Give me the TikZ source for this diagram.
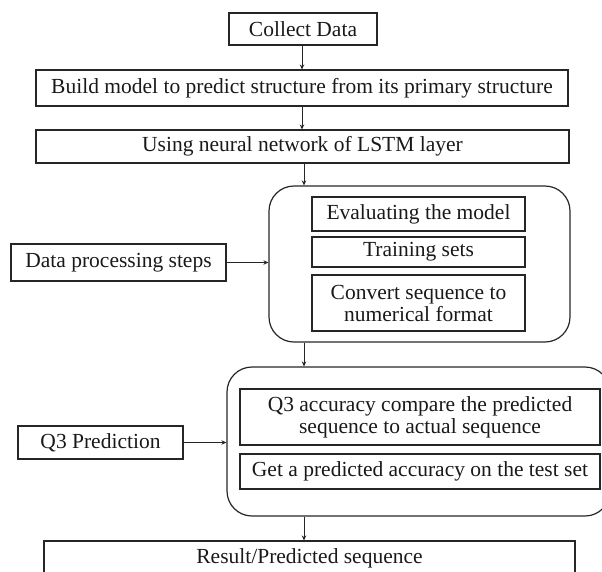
\documentclass[tikz,border=0pt]{standalone}
\usepackage{fontspec}
\setmainfont{Liberation Serif}
\usetikzlibrary{arrows.meta}
\begin{document}
\begin{tikzpicture}[x=1pt,y=-1pt,
  box/.style={draw=black!85,line width=1.1pt,rectangle,inner sep=0pt,align=center,
    font=\fontsize{21.5}{22}\selectfont,text=black!90},
  rbox/.style={draw=black!85,line width=1.2pt,rectangle,rounded corners=25pt,inner sep=0pt},
  arr/.style={draw=black!85,line width=0.9pt,-{Stealth[length=5pt,width=4.5pt]}}]
\useasboundingbox (0,0) rectangle (602,571);
\clip (0,0) rectangle (602,571);
\node[box,minimum width=148pt,minimum height=32pt] (collect) at (303,29) {Collect Data};
\node[box,minimum width=532pt,minimum height=36pt] (build) at (302,88) {Build model to predict structure from its primary structure};
\node[box,minimum width=533pt,minimum height=33pt] (lstm) at (302.5,146.5) {Using neural network of LSTM layer};
\node[rbox,minimum width=301pt,minimum height=156pt] (grp1) at (419.5,264) {};
\node[box,minimum width=213pt,minimum height=34pt] (eval) at (418.5,214) {Evaluating the model};
\node[box,minimum width=213pt,minimum height=30pt] (train) at (418.5,252) {Training sets};
\node[box,minimum width=213pt,minimum height=56pt] (conv) at (418.5,303) {Convert sequence to\\numerical format};
\node[box,minimum width=215pt,minimum height=37pt] (dps) at (118.5,262.5) {Data processing steps};
\node[rbox,minimum width=383pt,minimum height=149pt] (grp2) at (418.5,441.5) {};
\node[box,minimum width=360pt,minimum height=56pt] (q3acc) at (420,417) {Q3 accuracy compare the predicted\\sequence to actual sequence};
\node[box,minimum width=360pt,minimum height=35pt] (getp) at (420,471.5) {Get a predicted accuracy on the test set};
\node[box,minimum width=165pt,minimum height=33pt] (q3p) at (100.5,442.5) {Q3 Prediction};
\node[box,minimum width=531pt,minimum height=34pt] (result) at (309.5,558) {Result/Predicted sequence};
\draw[arr] (collect.south -| 302,0) -- (build.north -| 302,0);
\draw[arr] (build.south -| 302,0) -- (lstm.north -| 302,0);
\draw[arr] (lstm.south -| 304,0) -- (grp1.north -| 304,0);
\draw[arr] (grp1.south -| 304,0) -- (grp2.north -| 304,0);
\draw[arr] (grp2.south -| 304,0) -- (result.north -| 304,0);
\draw[arr] (dps.east) -- (dps.east -| grp1.west);
\draw[arr] (q3p.east) -- (q3p.east -| grp2.west);
\end{tikzpicture}
\end{document}
